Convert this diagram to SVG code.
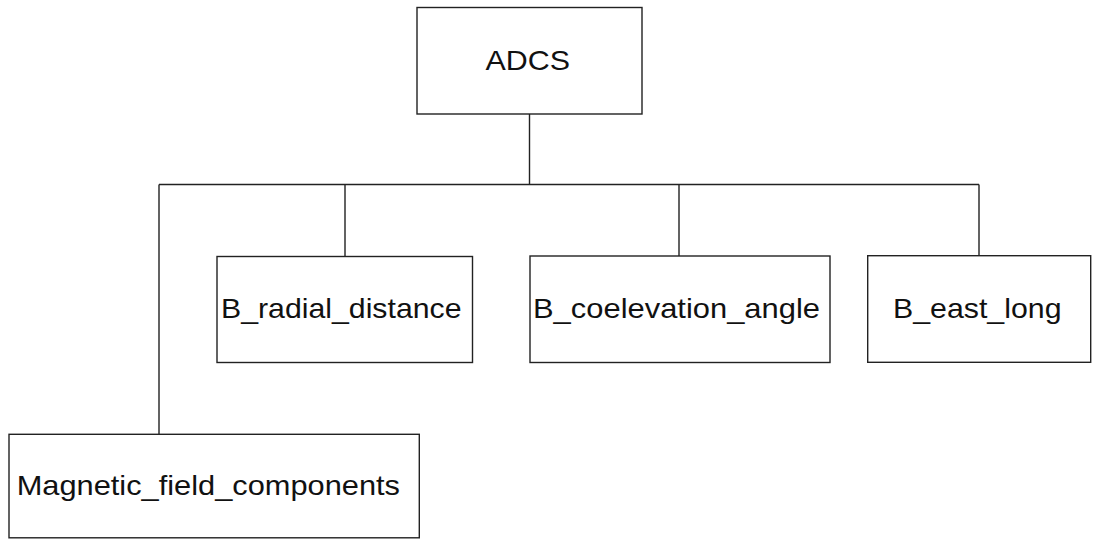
<svg xmlns="http://www.w3.org/2000/svg" width="1097" height="539" viewBox="0 0 1097 539">
<style>
.box{fill:#fff;stroke:#222;stroke-width:1.4}
.lbl{font-family:"Liberation Sans",Arial,sans-serif;font-size:28px;fill:#111}
.con{fill:none;stroke:#222;stroke-width:1.4}
</style>
<rect width="1097" height="539" fill="#fff"/>
<g id="connectors">
<path class="con" d="M529.5 114 V184.5 M159 184.5 H979 M159 184.5 V434 M345 184.5 V256.5 M679 184.5 V256.5 M979 184.5 V256"/>
</g>
<g id="adcs">
<rect class="box" x="417" y="7.5" width="225" height="106.5"/>
<text class="lbl" x="485.5" y="70" textLength="84.5" lengthAdjust="spacingAndGlyphs">ADCS</text>
</g>
<g id="radial">
<rect class="box" x="217" y="256.5" width="255.5" height="106"/>
<text class="lbl" x="221" y="318.3" textLength="240.5" lengthAdjust="spacingAndGlyphs">B_radial_distance</text>
</g>
<g id="coelevation">
<rect class="box" x="530" y="256" width="300" height="106.5"/>
<text class="lbl" x="533" y="318" textLength="287" lengthAdjust="spacingAndGlyphs">B_coelevation_angle</text>
</g>
<g id="eastlong">
<rect class="box" x="867.7" y="255.7" width="223" height="106.6"/>
<text class="lbl" x="893" y="317.5" textLength="168.5" lengthAdjust="spacingAndGlyphs">B_east_long</text>
</g>
<g id="magnetic">
<rect class="box" x="9" y="434.3" width="410.3" height="103.5"/>
<text class="lbl" x="16.7" y="495" textLength="383.3" lengthAdjust="spacingAndGlyphs">Magnetic_field_components</text>
</g>
</svg>
